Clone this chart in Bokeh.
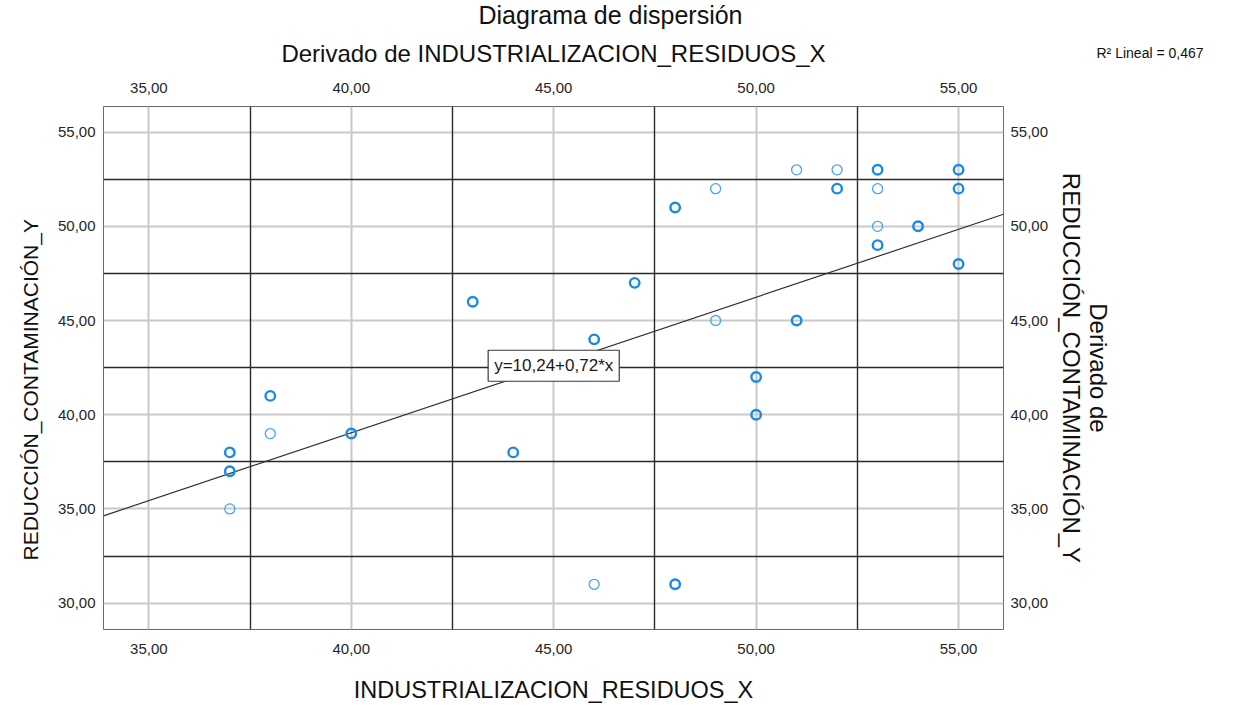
from bokeh.plotting import figure
from bokeh.models import (Range1d, LinearAxis, FixedTicker, CustomJSTickFormatter,
                          Grid, Label, Title, ColumnDataSource)
from bokeh.embed import file_html
from bokeh.resources import INLINE

# ---------------- data ----------------
industrializacion_x = [37, 37, 37, 38, 38, 40, 43, 44, 46, 46, 47, 48, 48, 49, 49,
                       50, 50, 51, 51, 52, 52, 53, 53, 53, 53, 54, 55, 55, 55]
reduccion_y = [38, 37, 35, 41, 39, 39, 46, 38, 44, 31, 47, 51, 31, 52, 45,
               42, 40, 53, 45, 53, 52, 53, 52, 50, 49, 50, 53, 52, 48]
# 1 = single case (thin ring), 2 = overlapping cases (thick ring)
n_cases = [2, 2, 1, 2, 1, 2, 2, 2, 2, 1, 2, 2, 2, 1, 1,
           2, 2, 1, 2, 1, 2, 2, 1, 1, 2, 2, 2, 2, 2]
x_ticks = [35, 40, 45, 50, 55]
y_ticks = [30, 35, 40, 45, 50, 55]
intercept = 10.24
slope = 0.72
r2_lineal = 0.467

title_1 = "Diagrama de dispersión"
title_2 = "Derivado de INDUSTRIALIZACION_RESIDUOS_X"
x_label = "INDUSTRIALIZACION_RESIDUOS_X"
y_label = "REDUCCIÓN_CONTAMINACIÓN_Y"
y2_label = "Derivado de\nREDUCCIÓN_CONTAMINACIÓN_Y"

FONT = "Liberation Sans"

# ---------------- figure ----------------
W, H = 1250, 705
FL, FT, FR, FB = 103, 106, 1003, 629   # frame edges in canvas px

x_range = Range1d(33.88, 56.11)
y_range = Range1d(28.6, 56.36)

p = figure(width=W, height=H, x_range=x_range, y_range=y_range, title=None,
           output_backend="svg", toolbar_location=None, tools="",
           min_border_left=FL, min_border_right=W - FR,
           min_border_top=FT, min_border_bottom=H - FB,
           background_fill_color="white", border_fill_color="white")
p.outline_line_color = "#6a6a6a"
p.outline_line_width = 1

fmt = CustomJSTickFormatter(code="return tick.toFixed(2).replace('.', ',');")

def style_axis(ax, standoff):
    ax.formatter = fmt
    ax.axis_line_color = None
    ax.major_tick_line_color = None
    ax.minor_tick_line_color = None
    ax.major_tick_out = 0
    ax.major_tick_in = 0
    ax.minor_tick_out = 0
    ax.major_label_standoff = standoff
    ax.major_label_text_font = FONT
    ax.major_label_text_font_size = "15px"
    ax.major_label_text_color = "#262626"
    ax.axis_label_text_font = FONT
    ax.axis_label_text_font_style = "normal"
    ax.axis_label_text_color = "#111111"

p.xaxis.ticker = FixedTicker(ticks=x_ticks)
p.yaxis.ticker = FixedTicker(ticks=y_ticks)
bx = p.xaxis[0]
style_axis(bx, 14)
bx.axis_label = x_label
bx.axis_label_text_font_size = "23.5px"
bx.axis_label_standoff = 20

ly = p.yaxis[0]
style_axis(ly, 8)

ax_top = LinearAxis(ticker=FixedTicker(ticks=x_ticks))
style_axis(ax_top, 14)
p.add_layout(ax_top, "above")

ax_right = LinearAxis(ticker=FixedTicker(ticks=y_ticks))
style_axis(ax_right, 7)
ax_right.axis_label = y2_label
ax_right.axis_label_text_font_size = "24px"
ax_right.axis_label_text_line_height = 1.0
ax_right.axis_label_standoff = 7
p.add_layout(ax_right, "right")

# left axis title (placed along the side, starting 69 px above the frame bottom)
p.add_layout(Title(text=y_label, align="left", offset=69, text_font=FONT,
                   text_font_size="21px", text_font_style="normal",
                   text_color="#111111", standoff=25), "left")

# titles (stacked outward from the frame)
p.add_layout(Title(text=title_2, align="center", text_font=FONT,
                   text_font_size="24px", text_font_style="normal",
                   text_line_height=1.0,
                   text_color="#111111", standoff=26), "above")
p.add_layout(Title(text=title_1, align="left", offset=375, text_font=FONT,
                   text_font_size="25px", text_font_style="normal",
                   text_line_height=1.0,
                   text_color="#111111", standoff=-8), "above")

# light grid at tick values
p.xgrid.ticker = FixedTicker(ticks=x_ticks)
p.ygrid.ticker = FixedTicker(ticks=y_ticks)
for g in (p.xgrid[0], p.ygrid[0]):
    g.grid_line_color = "#c9c9c9"
    g.grid_line_width = 2

# dark grid half-way between ticks
x_mid = [t + 2.5 for t in x_ticks[:-1]]
y_mid = [t + 2.5 for t in y_ticks[:-1]]
p.add_layout(Grid(dimension=0, ticker=FixedTicker(ticks=x_mid),
                  grid_line_color="#2a2a2a", grid_line_width=1.4))
p.add_layout(Grid(dimension=1, ticker=FixedTicker(ticks=y_mid),
                  grid_line_color="#2a2a2a", grid_line_width=1.4))

# regression line
fx = [x_range.start, x_range.end]
fy = [intercept + slope * v for v in fx]
p.line(fx, fy, line_color="#303030", line_width=1.2)

# points
src = ColumnDataSource(dict(
    x=industrializacion_x, y=reduccion_y,
    lw=[1.3 if c == 1 else 2.4 for c in n_cases],
    col=["#45a5ee" if c == 1 else "#1a8ae2" for c in n_cases],
    sz=[10 if c == 1 else 9.5 for c in n_cases],
))
p.scatter("x", "y", source=src, marker="circle", size="sz", fill_color=None,
          line_color="col", line_width="lw")

# fit equation label
eq_text = f"y={intercept:.2f}+{slope:.2f}*x".replace(".", ",")
p.add_layout(Label(x=45, y=42.6, text=eq_text, text_align="center",
                   text_baseline="middle", text_font=FONT,
                   text_font_size="17px", text_color="#1a1a1a",
                   background_fill_color="white", border_line_color="#3a3a3a",
                   border_line_width=1.2, padding=6))

# R^2 note, placed in the right-hand side panel (screen units of that panel)
r2_text = f"R² Lineal = {r2_lineal:.3f}".replace(".", ",")
p.add_layout(Label(x=-19, y=FB - 52, x_units="screen", y_units="screen",
                   text=r2_text, text_align="left", text_baseline="middle",
                   text_font=FONT, text_font_size="14px", text_color="#111111"),
             "right")

open("out.html", "w").write(file_html(p, INLINE))
